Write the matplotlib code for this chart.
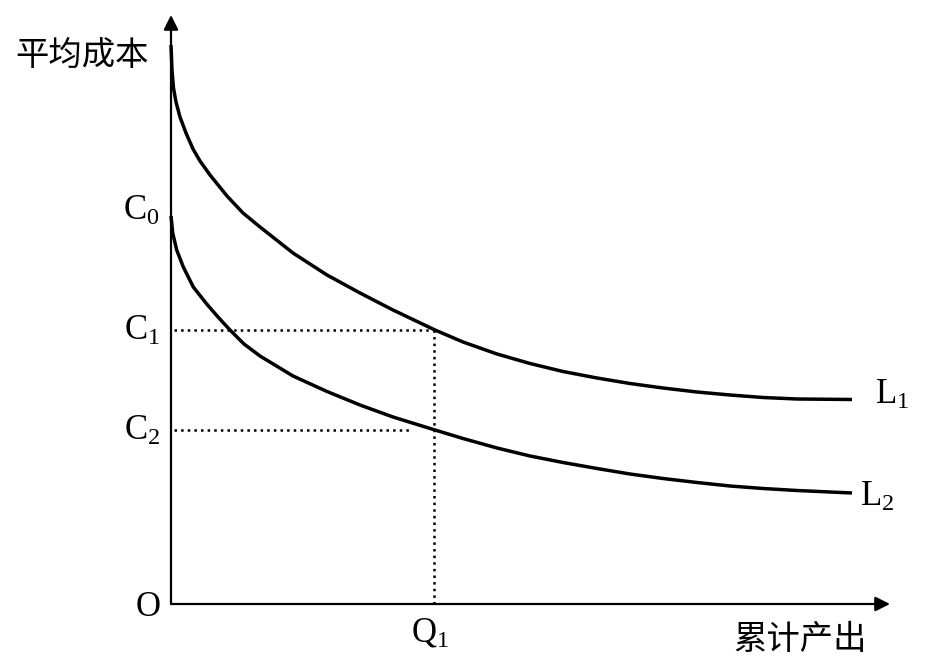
import matplotlib
matplotlib.use("Agg")
import matplotlib.pyplot as plt

plt.rcParams['font.family'] = ['Noto Sans CJK SC', 'DejaVu Sans']
plt.rcParams['mathtext.fontset'] = 'custom'
plt.rcParams['mathtext.rm'] = 'Liberation Serif'
plt.rcParams['mathtext.it'] = 'Liberation Serif'

# 学习曲线 L1 (累计产出, 平均成本)
l1_x = [0.0, 0.01, 0.025, 0.05, 0.09, 0.15, 0.22, 0.29, 0.39, 0.56, 0.72, 0.89,
        1.22, 1.56, 1.89, 2.22, 2.64, 2.92, 3.26, 3.59, 3.92, 4.26, 4.59, 4.92,
        5.26, 5.59, 5.92, 6.26, 6.81]
l1_y = [5.59, 5.34, 5.16, 5.02, 4.87, 4.71, 4.55, 4.43, 4.29, 4.08, 3.91, 3.77,
        3.51, 3.29, 3.11, 2.94, 2.74, 2.62, 2.50, 2.405, 2.325, 2.26, 2.205, 2.16,
        2.12, 2.09, 2.065, 2.05, 2.045]

# 学习曲线 L2
l2_x = [0.0, 0.017, 0.057, 0.123, 0.223, 0.357, 0.47, 0.59, 0.73, 0.89, 1.22,
        1.56, 1.89, 2.22, 2.64, 2.92, 3.26, 3.59, 3.92, 4.26, 4.59, 4.92, 5.26,
        5.59, 5.92, 6.26, 6.81]
l2_y = [3.88, 3.71, 3.54, 3.37, 3.17, 3.00, 2.87, 2.74, 2.60, 2.48, 2.28,
        2.125, 1.99, 1.87, 1.74, 1.655, 1.56, 1.48, 1.415, 1.355, 1.30, 1.255, 1.215,
        1.18, 1.155, 1.135, 1.11]

q1 = 2.63
c0 = 3.89
c1 = 2.74
c2 = 1.74

fig = plt.figure(figsize=(9.45, 6.65), dpi=100)
ax = fig.add_axes([0, 0, 1, 1])
ax.set_xlim(-1.71, 7.74)
ax.set_ylim(-0.61, 6.04)
ax.axis('off')

# 坐标轴 (带箭头)
arrow = dict(arrowstyle='-|>', mutation_scale=22, lw=1.6, color='black',
             shrinkA=0, shrinkB=0)
ax.annotate('', xy=(0, 5.89), xytext=(0, 0), arrowprops=arrow)
ax.annotate('', xy=(7.19, 0), xytext=(0, 0), arrowprops=arrow)

# 曲线
ax.plot(l1_x, l1_y, color='black', lw=2.5, solid_capstyle='butt', solid_joinstyle='round')
ax.plot(l2_x, l2_y, color='black', lw=2.5, solid_capstyle='butt', solid_joinstyle='round')

# 虚线
ax.plot([0.03, q1], [c1, c1], color='black', lw=1.8, ls=':')
ax.plot([0.03, 2.41], [c2, c2], color='black', lw=1.8, ls=':')
ax.plot([q1, q1], [0, c1], color='black', lw=1.8, ls=':')

# 标注
serif = 25
ax.text(-0.11, c0 + 0.05, r'$\mathrm{C}_0$', ha='right', va='center', fontsize=serif)
ax.text(-0.11, c1, r'$\mathrm{C}_1$', ha='right', va='center', fontsize=serif)
ax.text(-0.11, c2, r'$\mathrm{C}_2$', ha='right', va='center', fontsize=serif)
ax.text(-0.23, -0.02, r'$\mathrm{O}$', ha='center', va='center', fontsize=serif)
ax.text(q1 - 0.04, -0.28, r'$\mathrm{Q}_1$', ha='center', va='center', fontsize=serif)
ax.text(7.04, 2.10, r'$\mathrm{L}_1$', ha='left', va='center', fontsize=serif)
ax.text(6.89, 1.08, r'$\mathrm{L}_2$', ha='left', va='center', fontsize=serif)

ax.text(-0.89, 5.49, '平均成本', ha='center', va='center', fontsize=24)
ax.text(6.29, -0.36, '累计产出', ha='center', va='center', fontsize=24)

plt.savefig('out.png', dpi=100)
